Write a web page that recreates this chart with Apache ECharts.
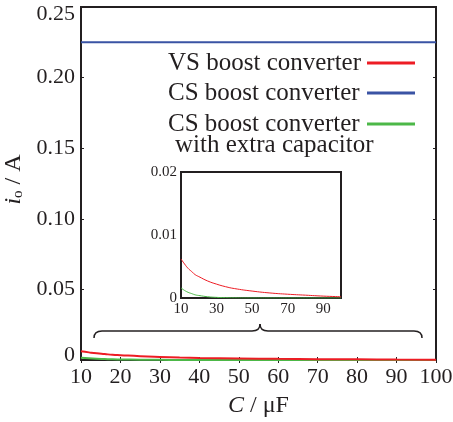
<!DOCTYPE html>
<html>
<head>
<meta charset="utf-8">
<script src="https://cdn.jsdelivr.net/npm/echarts@6/dist/echarts.min.js"></script>
<style>
  html, body { margin: 0; padding: 0; background: #fff; }
  #chart { width: 453px; height: 422px; }
</style>
</head>
<body>
<div id="chart"></div>
<script>
// Output current i_o versus capacitance C for three converter variants
const capacitance = [10, 12, 14, 16, 18, 20, 25, 30, 35, 40, 50, 60, 70, 80, 90, 100];
const vsBoost = [0.0062, 0.0054, 0.0047, 0.0042, 0.0037, 0.0034, 0.0027, 0.0022, 0.0018, 0.0015, 0.0011, 0.0008, 0.0006, 0.00045, 0.0003, 0.0002];
const csBoost = [0.225, 0.225, 0.225, 0.225, 0.225, 0.225, 0.225, 0.225, 0.225, 0.225, 0.225, 0.225, 0.225, 0.225, 0.225, 0.225];
const csBoostExtraCap = [0.0016, 0.0012, 0.0009, 0.0007, 0.0005, 0.0004, 0.0002, 0.0001, 0.00005, 0.00002, 0, 0, 0, 0, 0, 0];

const seriesNames = ['VS boost converter', 'CS boost converter', 'CS boost converter'];
const secondLine = 'with extra capacitor';
const mainXTicks = [10, 20, 30, 40, 50, 60, 70, 80, 90, 100];
const mainYTicks = [0, 0.05, 0.10, 0.15, 0.20, 0.25];
const insetXTicks = [10, 30, 50, 70, 90];
const insetYTicks = [0, 0.01, 0.02];

const RED = '#ed1c24', BLUE = '#3a53a4', GREEN = '#4cb848', INK = '#231f20';
const FONT = 'Liberation Serif';

const pairs = ys => capacitance.map((c, i) => [c, ys[i]]);

// end labels of the main value axis sit slightly inside the frame
function mainYLabel(v) {
  if (Math.abs(v) < 1e-9) return '{lo|0}';
  if (Math.abs(v - mainYTicks[mainYTicks.length - 1]) < 1e-9) return '{hi|' + v.toFixed(2) + '}';
  return v.toFixed(2);
}

function axisBase(extra) {
  return Object.assign({
    type: 'value',
    splitLine: { show: false },
    axisLine: { show: false },
    axisTick: { show: true, inside: true, length: 3, lineStyle: { color: INK, width: 1 } }
  }, extra);
}

function legendText(x, y, text) {
  return { type: 'text', x: x, y: y, z: 20, style: { text: text, fontFamily: FONT, fontSize: 25, fill: INK, verticalAlign: 'middle' } };
}
function seg(x1, y1, x2, y2, color, w) {
  return { type: 'line', z: 20, shape: { x1: x1, y1: y1, x2: x2, y2: y2 }, style: { stroke: color, lineWidth: w } };
}
function curve(x1, y1, cx, cy, x2, y2) {
  return { type: 'bezierCurve', z: 20, shape: { x1: x1, y1: y1, cpx1: cx, cpy1: cy, x2: x2, y2: y2 }, style: { stroke: INK, lineWidth: 1.5, fill: null } };
}

const chart = echarts.init(document.getElementById('chart'), null, { renderer: 'canvas' });

const option = {
  backgroundColor: '#fff',
  animation: false,
  grid: [
    { left: 81, right: 17, top: 7, bottom: 62, outerBoundsMode: 'none', containLabel: false, show: true, borderColor: INK, borderWidth: 2, backgroundColor: 'transparent' },
    { left: 181, right: 112, top: 172, bottom: 124, outerBoundsMode: 'none', containLabel: false, show: true, borderColor: INK, borderWidth: 2, backgroundColor: '#fff', z: 5 }
  ],
  xAxis: [
    axisBase({
      gridIndex: 0, min: mainXTicks[0], max: mainXTicks[mainXTicks.length - 1], interval: 10,
      name: '{c|C} / μF', nameLocation: 'middle', nameGap: 34,
      nameTextStyle: { fontFamily: FONT, fontSize: 24, color: INK, rich: { c: { fontFamily: FONT, fontSize: 24, fontStyle: 'italic', color: INK } } },
      axisLabel: { fontFamily: FONT, fontSize: 22, color: INK, margin: 6 }
    }),
    axisBase({
      gridIndex: 0, position: 'top', min: 10, max: 100, interval: 10,
      axisLabel: { show: false }
    }),
    axisBase({
      gridIndex: 1, min: 10, max: 100, interval: 20,
      axisTick: { show: true, inside: true, length: 2, lineStyle: { color: INK, width: 1 } },
      axisLabel: {
        fontFamily: FONT, fontSize: 15, color: INK, margin: 4, showMaxLabel: false,
        formatter: v => (insetXTicks.indexOf(v) >= 0 ? String(v) : '')
      }
    })
  ],
  yAxis: [
    axisBase({
      gridIndex: 0, min: mainYTicks[0], max: mainYTicks[mainYTicks.length - 1], interval: 0.05,
      name: '{i|i}{o|o} / A', nameLocation: 'middle', nameGap: 45, nameRotate: 90,
      nameTextStyle: {
        fontFamily: FONT, fontSize: 24, color: INK, padding: [0, 0, 0, 8],
        rich: {
          i: { fontFamily: FONT, fontSize: 24, fontStyle: 'italic', color: INK },
          o: { fontFamily: FONT, fontSize: 15, fontStyle: 'normal', color: INK, verticalAlign: 'bottom', padding: [8, 0, 0, 0] }
        }
      },
      axisLabel: {
        fontFamily: FONT, fontSize: 22, color: INK, margin: 6, formatter: mainYLabel,
        rich: {
          hi: { fontFamily: FONT, fontSize: 22, color: INK, padding: [14, 0, 0, 0] },
          lo: { fontFamily: FONT, fontSize: 22, color: INK, padding: [0, 0, 10, 0] }
        }
      }
    }),
    axisBase({
      gridIndex: 0, position: 'right', min: 0, max: 0.25, interval: 0.05,
      axisLabel: { show: false }
    }),
    axisBase({
      gridIndex: 1, min: 0, max: 0.02, interval: 0.01,
      axisTick: { show: true, inside: true, length: 2, lineStyle: { color: INK, width: 1 } },
      axisLabel: {
        fontFamily: FONT, fontSize: 15, color: INK, margin: 4,
        formatter: v => (Math.abs(v) < 1e-9 ? '0' : v.toFixed(2))
      }
    })
  ],
  series: [
    { name: seriesNames[1], type: 'line', xAxisIndex: 0, yAxisIndex: 0, data: pairs(csBoost), showSymbol: false, lineStyle: { color: BLUE, width: 2 }, z: 2 },
    { name: seriesNames[2], type: 'line', xAxisIndex: 0, yAxisIndex: 0, data: pairs(csBoostExtraCap), smooth: true, showSymbol: false, lineStyle: { color: GREEN, width: 2 }, z: 2 },
    { name: seriesNames[0], type: 'line', xAxisIndex: 0, yAxisIndex: 0, data: pairs(vsBoost), smooth: true, showSymbol: false, lineStyle: { color: RED, width: 2 }, z: 3 },
    { name: seriesNames[2], type: 'line', xAxisIndex: 2, yAxisIndex: 2, data: pairs(csBoostExtraCap), smooth: true, showSymbol: false, lineStyle: { color: GREEN, width: 1 }, z: 6 },
    { name: seriesNames[0], type: 'line', xAxisIndex: 2, yAxisIndex: 2, data: pairs(vsBoost), smooth: true, showSymbol: false, lineStyle: { color: RED, width: 1 }, z: 6 }
  ],
  graphic: [
    // legend entries: label on the left, line sample on the right
    legendText(168, 63, seriesNames[0]),
    seg(367, 63, 415, 63, RED, 3),
    legendText(168, 93, seriesNames[1]),
    seg(367, 93, 415, 93, BLUE, 3),
    legendText(168, 124, seriesNames[2]),
    legendText(175, 145, secondLine),
    seg(367, 124, 415, 124, GREEN, 3),
    // brace marking the zoomed range
    curve(94, 338, 94, 331, 102, 331),
    seg(102, 331, 252, 331, INK, 1.5),
    curve(252, 331, 260, 331, 260, 324),
    curve(260, 324, 260, 331, 268, 331),
    seg(268, 331, 414, 331, INK, 1.5),
    curve(414, 331, 422, 331, 422, 338)
  ]
};

chart.setOption(option);
</script>
</body>
</html>
